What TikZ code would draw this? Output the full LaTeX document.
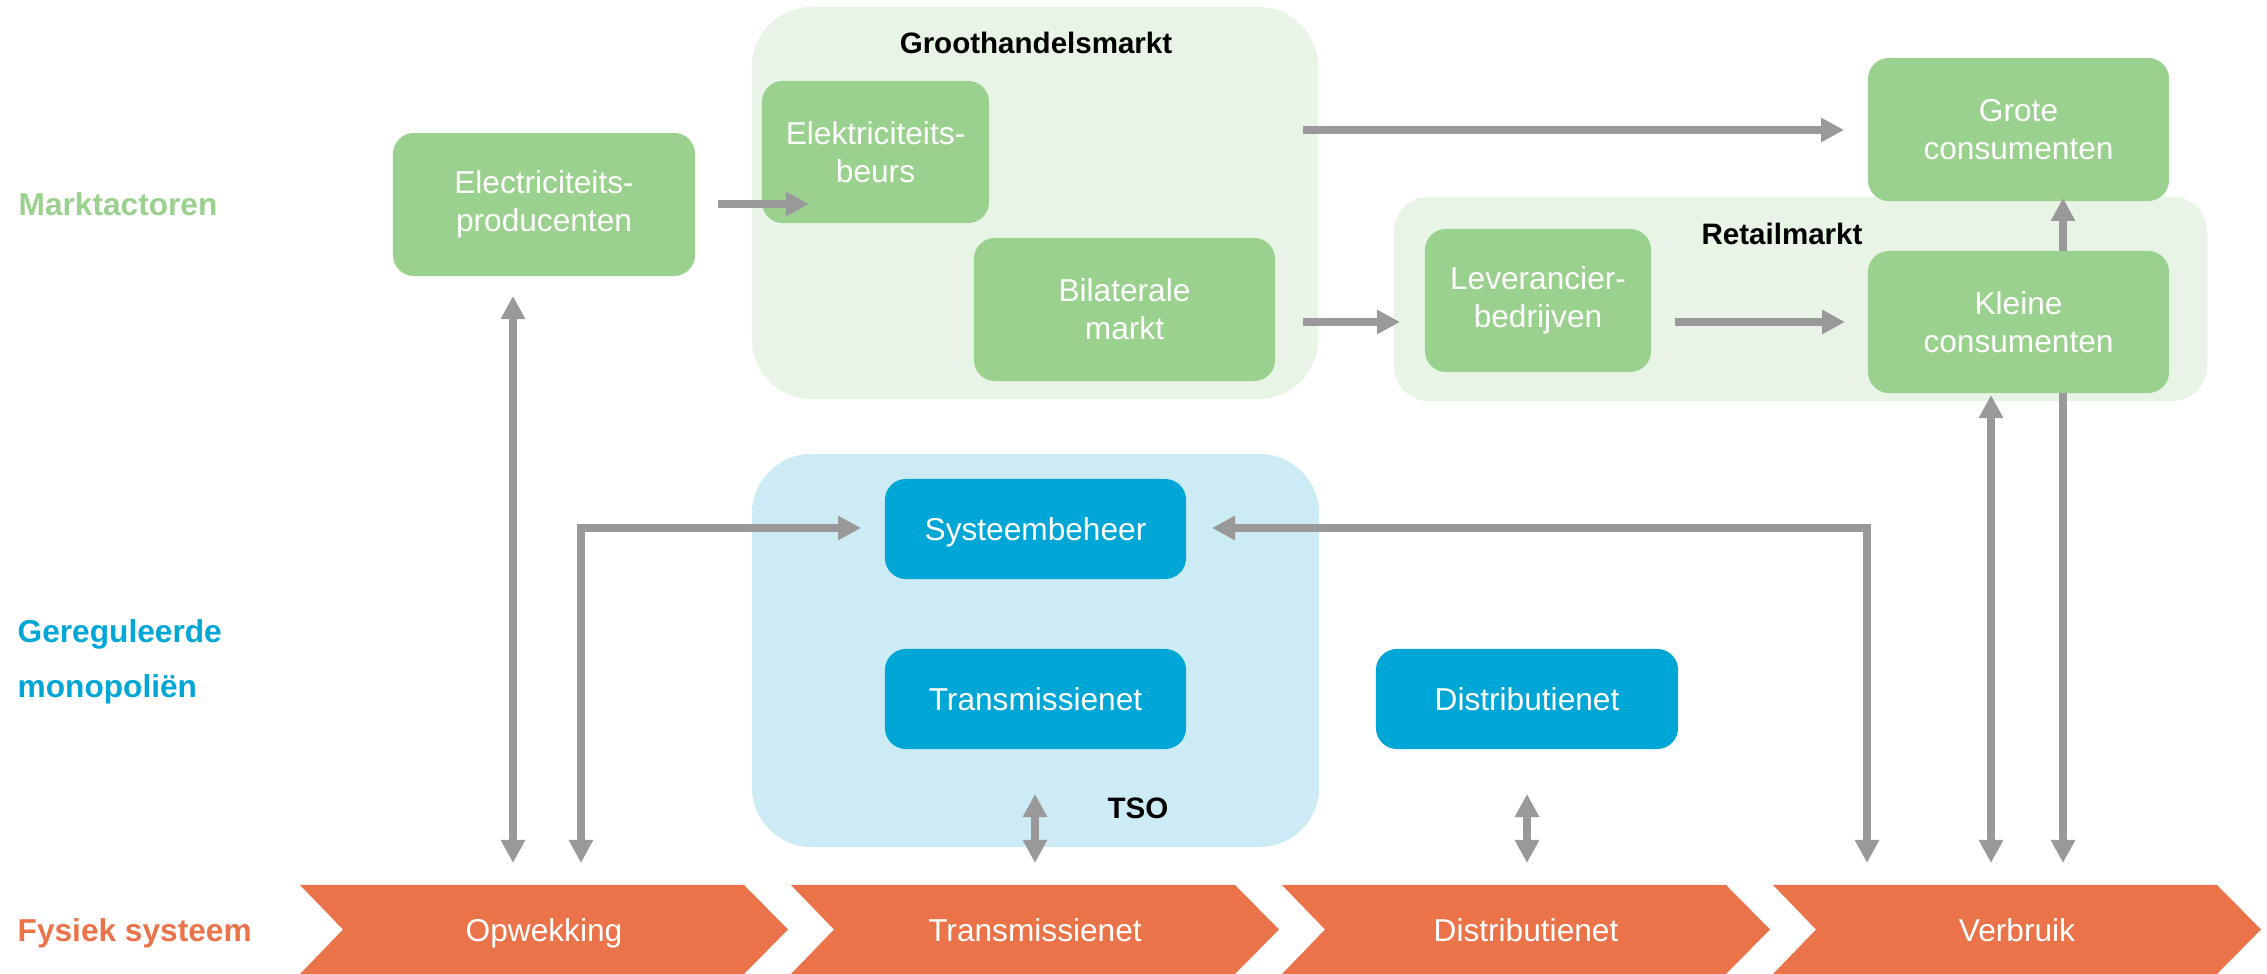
\documentclass[tikz,border=0pt]{standalone}
\usepackage{fontspec}
\setmainfont{Liberation Sans}
\usetikzlibrary{arrows.meta}

\definecolor{mgreen}{RGB}{155,209,142}
\definecolor{mgreenbg}{RGB}{232,244,230}
\definecolor{mblue}{RGB}{0,166,214}
\definecolor{mbluebg}{RGB}{204,235,245}
\definecolor{morange}{RGB}{234,115,74}
\definecolor{mgrey}{RGB}{153,153,153}

\begin{document}
\begin{tikzpicture}[x=0.01cm,y=-0.01cm,
  box/.style={rectangle, rounded corners=0.21cm, inner sep=0pt, align=center,
    text=white, font=\fontsize{9}{10.8}\selectfont},
  greenbox/.style={box, fill=mgreen},
  bluebox/.style={box, fill=mblue, text height=6.6pt, text depth=0pt},
  group/.style={rectangle, inner sep=0pt},
  grouptitle/.style={font=\fontsize{8.4}{10}\selectfont\bfseries, text=black, inner sep=0pt},
  rowlabel/.style={anchor=base west, inner sep=0pt, font=\fontsize{9}{10.8}\selectfont\bfseries},
  chevtext/.style={anchor=base, text=white, inner sep=0pt, font=\fontsize{9}{10.8}\selectfont},
  arr/.style={draw=mgrey, line width=0.08cm, -{Triangle[width=0.23cm,length=0.23cm]}},
  arrtwo/.style={draw=mgrey, line width=0.08cm, {Triangle[width=0.23cm,length=0.23cm]}-{Triangle[width=0.23cm,length=0.23cm]}},
]
\useasboundingbox (0,0) rectangle (2267,974);

% --- group backgrounds ---
\node[group, fill=mgreenbg, rounded corners=0.6cm, minimum width=5.66cm, minimum height=3.92cm] (wholesale) at (1035,203) {};
\node[grouptitle] (wholesaletitle) at (1036,43) {Groothandelsmarkt};
\node[group, fill=mgreenbg, rounded corners=0.35cm, minimum width=8.13cm, minimum height=2.04cm] (retail) at (1800.5,299) {};
\node[grouptitle] (retailtitle) at (1782,234) {Retailmarkt};
\node[group, fill=mbluebg, rounded corners=0.6cm, minimum width=5.67cm, minimum height=3.93cm] (tso) at (1035.5,650.5) {};
\node[grouptitle] (tsotitle) at (1138,808) {TSO};

% --- row labels ---
\node[rowlabel, text=mgreen] (lblmarket) at (18,216) {Marktactoren};
\node[rowlabel, text=mblue] (lblmono1) at (17,643) {Gereguleerde};
\node[rowlabel, text=mblue] (lblmono2) at (17,698) {monopoliën};
\node[rowlabel, text=morange] (lblphys) at (17,942) {Fysiek systeem};

% --- market actors ---
\node[greenbox, minimum width=3.02cm, minimum height=1.43cm] (prod) at (544,204.5) {Electriciteits-\\producenten};
\node[greenbox, minimum width=2.27cm, minimum height=1.42cm] (beurs) at (875.5,152) {Elektriciteits-\\beurs};
\node[greenbox, minimum width=3.01cm, minimum height=1.43cm] (bilat) at (1124.5,309.5) {Bilaterale\\markt};
\node[greenbox, minimum width=2.26cm, minimum height=1.43cm] (lev) at (1538,300.5) {Leverancier-\\bedrijven};
\node[greenbox, minimum width=3.01cm, minimum height=1.43cm] (grote) at (2018.5,129.5) {Grote\\consumenten};
\node[greenbox, minimum width=3.01cm, minimum height=1.42cm] (kleine) at (2018.5,322) {Kleine\\consumenten};

% --- regulated monopolies ---
\node[bluebox, minimum width=3.01cm, minimum height=1.0cm] (sys) at (1035.5,529) {Systeembeheer};
\node[bluebox, minimum width=3.01cm, minimum height=1.0cm] (trans) at (1035.5,699) {Transmissienet};
\node[bluebox, minimum width=3.02cm, minimum height=1.0cm] (distr) at (1527,699) {Distributienet};

% --- physical system chevrons ---
\foreach \L/\nm/\txt in {300/opw/Opwekking, 791/trn/Transmissienet, 1282/dis/Distributienet, 1773/vbr/Verbruik}{
  \fill[morange] (\L,885) -- ++(444,0) -- ++(44,44.5) -- ++(-44,44.5) -- ++(-444,0) -- ++(43,-44.5) -- cycle;
  \node[chevtext] (\nm) at (\L+244,942) {\txt};
}

% --- connector end points ---
\coordinate (prodout) at (718,204);
\coordinate (beursin) at (809,204);
\coordinate (wsout) at (1303,130);
\coordinate (grotein) at (1844,130);
\coordinate (bilatout) at (1303,322);
\coordinate (levin) at (1400,322);
\coordinate (levout) at (1675,322);
\coordinate (kleinein) at (1845,322);
\coordinate (kleinetop) at (2063,251);
\coordinate (groteup) at (2063,198);
\coordinate (kleinedown) at (2063,393);
\coordinate (vbrA) at (2063,863);
\coordinate (kleineup) at (1991,395);
\coordinate (vbrB) at (1991,863);
\coordinate (vbrC) at (1867,863);
\coordinate (sysR) at (1212,528);
\coordinate (opwA) at (581,863);
\coordinate (sysL) at (861,528);
\coordinate (opwB) at (513,863);
\coordinate (produp) at (513,296);
\coordinate (transdn) at (1035,794);
\coordinate (trnup) at (1035,863);
\coordinate (distrdn) at (1527,794);
\coordinate (disup) at (1527,863);

% --- connectors ---
\draw[arr] (prodout) -- (beursin);
\draw[arr] (wsout) -- (grotein);
\draw[arr] (bilatout) -- (levin);
\draw[arr] (levout) -- (kleinein);
\draw[arr] (kleinetop) -- (groteup);
\draw[arr] (kleinedown) -- (vbrA);
\draw[arrtwo] (kleineup) -- (vbrB);
\draw[arrtwo] (vbrC) |- (sysR);
\draw[arrtwo] (opwA) |- (sysL);
\draw[arrtwo] (opwB) -- (produp);
\draw[arrtwo] (transdn) -- (trnup);
\draw[arrtwo] (distrdn) -- (disup);
\end{tikzpicture}
\end{document}
